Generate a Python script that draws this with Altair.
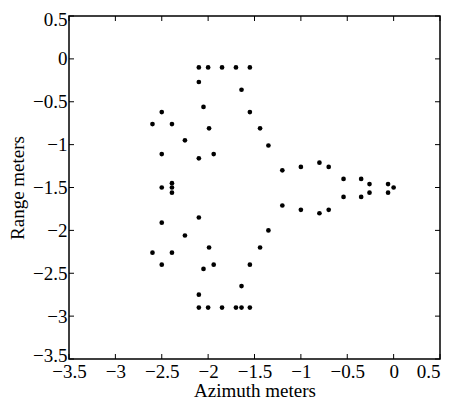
import altair as alt
import pandas as pd

azimuth = [
    -2.10, -2.00, -1.85, -1.70, -1.55,
    -2.10, -2.00, -1.85, -1.70, -1.64, -1.55,
    -2.10, -1.64, -2.05, -2.50, -1.55, -2.60, -2.39, -1.99, -1.44,
    -2.25, -1.35, -2.50, -2.10, -1.94,
    -2.50, -2.39, -2.39, -2.39,
    -2.50, -2.10, -2.25, -1.35, -2.60, -2.39, -1.99, -1.44,
    -2.50, -2.05, -1.94, -1.55, -1.64, -2.10,
    -1.20, -1.00, -0.80, -0.70, -0.54, -0.35, -0.26, -0.06, 0.00,
    -0.54, -0.35, -0.26, -0.06, -1.20, -1.00, -0.80, -0.70,
]
rng = [
    -0.10, -0.10, -0.10, -0.10, -0.10,
    -2.90, -2.90, -2.90, -2.90, -2.90, -2.90,
    -0.27, -0.36, -0.56, -0.62, -0.62, -0.76, -0.76, -0.81, -0.81,
    -0.95, -1.01, -1.11, -1.16, -1.11,
    -1.50, -1.45, -1.50, -1.56,
    -1.91, -1.85, -2.06, -2.00, -2.26, -2.26, -2.20, -2.20,
    -2.40, -2.45, -2.40, -2.40, -2.65, -2.75,
    -1.30, -1.26, -1.21, -1.26, -1.40, -1.40, -1.46, -1.46, -1.50,
    -1.61, -1.61, -1.56, -1.56, -1.71, -1.76, -1.80, -1.76,
]
tick_values = [-3.5, -3.0, -2.5, -2.0, -1.5, -1.0, -0.5, 0.0, 0.5]

W, H = 371, 343
FONT = "Liberation Serif"

pts = pd.DataFrame({"az": azimuth, "rg": rng})
ticks = pd.DataFrame({"t": tick_values})

xscale = alt.Scale(domain=[-3.5, 0.5], nice=False, zero=False)
yscale = alt.Scale(domain=[-3.5, 0.5], nice=False, zero=False)

xaxis = alt.Axis(values=tick_values, title="Azimuth meters", grid=False, ticks=False,
                 domain=False, labelFlush=False, labelPadding=3, format="~g",
                 labelAlign=alt.ExprRef(expr="datum.value >= 0.5 ? 'right' : 'center'"),
                 titleBaseline="alphabetic", titleY=37, labelOverlap=False)
yaxis = alt.Axis(values=tick_values, title="Range meters", grid=False, ticks=False,
                 domain=False, labelFlush=True, labelFlushOffset=6, labelPadding=2,
                 format="~g", titlePadding=5, labelOverlap=False)

points = alt.Chart(pts).mark_circle(size=22, color="black", opacity=1).encode(
    x=alt.X("az:Q", scale=xscale, axis=xaxis),
    y=alt.Y("rg:Q", scale=yscale, axis=yaxis),
)

tl = 5
bottom_ticks = alt.Chart(ticks).mark_rule(color="black", strokeWidth=1).encode(
    x=alt.X("t:Q", scale=xscale), y=alt.value(H), y2=alt.value(H - tl))
top_ticks = alt.Chart(ticks).mark_rule(color="black", strokeWidth=1).encode(
    x=alt.X("t:Q", scale=xscale), y=alt.value(0), y2=alt.value(tl))
left_ticks = alt.Chart(ticks).mark_rule(color="black", strokeWidth=1).encode(
    y=alt.Y("t:Q", scale=yscale), x=alt.value(0), x2=alt.value(tl))
right_ticks = alt.Chart(ticks).mark_rule(color="black", strokeWidth=1).encode(
    y=alt.Y("t:Q", scale=yscale), x=alt.value(W), x2=alt.value(W - tl))

chart = alt.layer(points, bottom_ticks, top_ticks, left_ticks, right_ticks).properties(
    width=W, height=H,
    autosize=alt.AutoSizeParams(type="none"),
    padding={"left": 61, "top": 8, "right": 6, "bottom": 40},
).configure_view(stroke="black", strokeWidth=1.5).configure_axis(
    labelFont=FONT, titleFont=FONT, labelFontSize=19, titleFontSize=19,
    labelColor="black", titleColor="black", titleFontWeight="normal",
)

chart.save("out.html", embed_options={"renderer": "svg", "actions": False})
